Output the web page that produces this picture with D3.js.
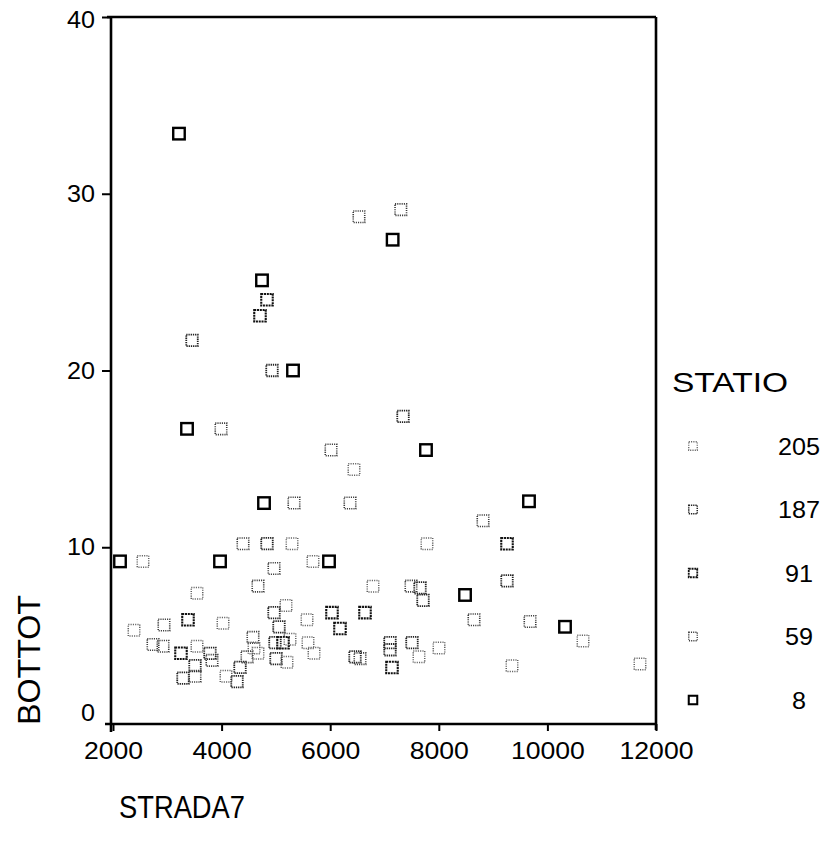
<!DOCTYPE html>
<html>
<head>
<meta charset="utf-8">
<script src="https://cdn.jsdelivr.net/npm/d3@7"></script>
<style>
  html, body { margin: 0; padding: 0; background: #fff; }
  svg { display: block; font-family: "Liberation Sans", Arial, Helvetica, sans-serif; }
</style>
</head>
<body>
<svg id="chart" width="822" height="843"></svg>
<script>
// ---- data ----
const stations = [205, 187, 91, 59, 8];
const xTicks = [2000, 4000, 6000, 8000, 10000, 12000];
const yTicks = [0, 10, 20, 30, 40];

const statio = [
  8,8,8,8,8,8,8,8,8,8,8,8,8,
  91,91,91,91,91,91,91,91,91,91,
  187,187,187,187,187,187,187,187,187,187,187,187,187,187,187,187,187,187,187,187,
  59,59,59,59,59,59,59,59,59,59,59,59,59,59,59,59,59,59,59,59,59,
  205,205,205,205,205,205,205,205,205,205,205,205,205,205,205,205,205,205,205,205,205,205,205,205
];
const strada7 = [
  3215,7150,4744,5315,3363,7764,4781,9661,2129,3971,5978,10324,8483,
  4836,9256,6033,6180,4707,3381,6641,5131,7138,3252,
  3455,4928,7341,4836,4965,5057,4983,3786,3510,5002,4339,4284,3289,7101,7506,7654,7709,9256,6457,7101,
  6530,7300,3989,6015,5333,6365,8814,4394,4670,4965,2939,4578,2737,2921,3823,4468,3510,6549,7488,8648,9680,
  6438,7782,5297,2552,5683,3547,5186,5573,2387,4026,5260,3547,5591,5702,5204,4597,4670,4081,6788,7635,8004,10656,11705,9348
];
const bottot = [
  33.4,27.4,25.1,20.0,16.7,15.5,12.5,12.6,9.2,9.2,9.2,5.5,7.3,
  24.0,10.2,6.3,5.4,23.1,5.9,6.3,4.6,3.2,4.0,
  21.7,20.0,17.4,10.2,6.3,5.5,4.6,4.0,3.3,3.7,3.2,2.4,2.6,4.6,4.6,7.7,7.0,8.1,3.8,4.2,
  28.7,29.1,16.7,15.5,12.5,12.5,11.5,10.2,7.8,8.8,5.6,4.9,4.5,4.4,3.6,3.8,2.7,3.7,7.8,5.9,5.8,
  14.4,10.2,10.2,9.2,9.2,7.4,6.7,5.9,5.3,5.7,4.8,4.4,4.6,4.0,3.5,4.3,4.0,2.7,7.8,3.8,4.3,4.7,3.4,3.3
];

// ---- styles ----
const markStyle = {
  8:   { stroke: "#000", width: 2.4, dash: null },
  91:  { stroke: "#111", width: 2.1, dash: "2,0.8" },
  187: { stroke: "#222", width: 1.8, dash: "1.3,0.9" },
  59:  { stroke: "#3a3a3a", width: 1.6, dash: "1.1,1.1" },
  205: { stroke: "#606060", width: 1.5, dash: "1.1,1.2" }
};

const svg = d3.select("#chart");
const x = d3.scaleLinear().domain([2000, 12000]).range([113, 656]);
const y = d3.scaleLinear().domain([0, 40]).range([724, 17]);

// frame (top & right)
svg.append("line").attr("x1", 107).attr("x2", x(12000)).attr("y1", y(40)).attr("y2", y(40))
  .attr("stroke", "#000").attr("stroke-width", 2.6);
svg.append("line").attr("x1", x(12000)).attr("x2", x(12000)).attr("y1", y(40)).attr("y2", y(0) + 6)
  .attr("stroke", "#000").attr("stroke-width", 2.6);

// x axis
const gx = svg.append("g").attr("transform", `translate(0,${y(0)})`)
  .call(d3.axisBottom(x).tickValues(xTicks).tickFormat(d3.format("d")).tickSize(7).tickSizeOuter(0).tickPadding(11));
gx.select(".domain").attr("d", `M${x(2000) - 8},0H${x(12000)}`).attr("stroke-width", 2.6);
gx.selectAll(".tick line").attr("stroke-width", 2);
gx.selectAll(".tick text").attr("font-size", 24).attr("fill", "#000")
  .attr("textLength", d => String(d).length * 14.8).attr("lengthAdjust", "spacingAndGlyphs");

// y axis
const gy = svg.append("g").attr("transform", `translate(${x(2000) - 2},0)`)
  .call(d3.axisLeft(y).tickValues(yTicks).tickFormat(d3.format("d")).tickSize(9).tickSizeOuter(0).tickPadding(7));
gy.select(".domain").attr("d", `M0,${y(40)}V${y(0) + 8}`).attr("stroke-width", 2.6);
gy.selectAll(".tick line").attr("stroke-width", 2).filter(d => d === 0).remove();
gy.selectAll(".tick text").attr("font-size", 24).attr("fill", "#000")
  .attr("textLength", d => String(d).length * 14).attr("lengthAdjust", "spacingAndGlyphs")
  .attr("dy", d => d === 0 ? "-0.15em" : (d === 40 ? "0.45em" : "0.32em"));

// points
const pts = statio.map((s, i) => ({ s, x: strada7[i], y: bottot[i] }));
const sz = 11.5;
svg.append("g").selectAll("rect").data(pts).join("rect")
  .attr("x", d => x(d.x) - sz / 2).attr("y", d => y(d.y) - sz / 2)
  .attr("width", sz).attr("height", sz)
  .attr("fill", "none")
  .attr("stroke", d => markStyle[d.s].stroke)
  .attr("stroke-width", d => markStyle[d.s].width)
  .attr("stroke-dasharray", d => markStyle[d.s].dash);

// axis titles
svg.append("text").attr("x", 119).attr("y", 818).attr("font-size", 31)
  .attr("textLength", 126).attr("lengthAdjust", "spacingAndGlyphs").text("STRADA7");
svg.append("text").attr("transform", "translate(40,660) rotate(-90)")
  .attr("text-anchor", "middle").attr("font-size", 31)
  .attr("textLength", 130).attr("lengthAdjust", "spacingAndGlyphs").text("BOTTOT");

// legend
svg.append("text").attr("x", 672).attr("y", 392).attr("font-size", 28)
  .attr("textLength", 116).attr("lengthAdjust", "spacingAndGlyphs").text("STATIO");
const leg = d3.scalePoint().domain(stations).range([446, 700]);
const lsz = 8.5;
const lg = svg.append("g").selectAll("g").data(stations).join("g")
  .attr("transform", d => `translate(0,${leg(d)})`);
lg.append("rect").attr("x", 693 - lsz / 2).attr("y", -lsz / 2).attr("width", lsz).attr("height", lsz)
  .attr("fill", "none")
  .attr("stroke", d => markStyle[d].stroke)
  .attr("stroke-width", d => markStyle[d].width * 0.85)
  .attr("stroke-dasharray", d => markStyle[d].dash);
lg.append("text").attr("x", 799).attr("y", 0).attr("dy", "0.36em")
  .attr("text-anchor", "middle").attr("font-size", 24)
  .attr("textLength", d => String(d).length * 14).attr("lengthAdjust", "spacingAndGlyphs")
  .text(d => d);
</script>
</body>
</html>
